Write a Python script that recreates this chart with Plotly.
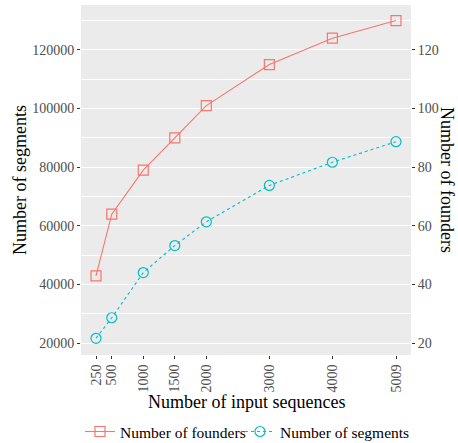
import plotly.graph_objects as go

sequences = [250, 500, 1000, 1500, 2000, 3000, 4000, 5009]
founders = [43, 64, 79, 90, 101, 115, 124, 130]
segments = [21700, 28700, 44100, 53300, 61400, 73800, 81700, 88700]
x_ticks = [250, 500, 1000, 1500, 2000, 3000, 4000, 5009]
y_ticks = [20000, 40000, 60000, 80000, 100000, 120000]
y2_ticks = [20, 40, 60, 80, 100, 120]

FONT = "Liberation Serif"
RED = "#F8766D"
CYAN = "#00BFC4"

fig = go.Figure()
fig.add_trace(go.Scatter(
    x=sequences, y=founders, yaxis="y2", name="Number of founders",
    mode="lines+markers", legend="legend",
    line=dict(color=RED, width=1.1),
    marker=dict(symbol="square-open", size=10, color=RED, line=dict(width=1.2)),
))
fig.add_trace(go.Scatter(
    x=sequences, y=segments, yaxis="y", name="Number of segments",
    mode="lines+markers", legend="legend2",
    line=dict(color=CYAN, width=1.1, dash="dot"),
    marker=dict(symbol="circle-open", size=10, color=CYAN, line=dict(width=1.2)),
))

lo, hi = 16000, 135300
axis_common = dict(
    showline=False, zeroline=False, ticks="outside", ticklen=3, tickwidth=1,
    tickcolor="#333333", tickfont=dict(family=FONT, size=14, color="#4D4D4D"),
    automargin=False,
)
title_font = dict(family=FONT, size=18, color="black")
legend_common = dict(
    orientation="h", xref="container", yref="container",
    xanchor="left", y=0.025, yanchor="middle",
    font=dict(family=FONT, size=15.5, color="black"), bgcolor="rgba(0,0,0,0)",
    itemwidth=30,
)
fig.update_layout(
    width=458, height=443,
    margin=dict(l=81, r=47, t=5, b=88, autoexpand=False),
    paper_bgcolor="white", plot_bgcolor="#EBEBEB",
    font=dict(family=FONT, color="black"),
    xaxis=dict(
        range=[12, 5247], tickvals=x_ticks, ticktext=[str(t) for t in x_ticks],
        tickangle=-90, showgrid=False,
        **axis_common,
    ),
    yaxis=dict(
        range=[lo, hi], tickvals=y_ticks, ticktext=[str(t) for t in y_ticks],
        showgrid=True, gridcolor="white", gridwidth=1.1,
        minor=dict(tickvals=[30000, 50000, 70000, 90000, 110000, 130000],
                   showgrid=True, gridcolor="white", gridwidth=0.5, ticks=""),
        **axis_common,
    ),
    yaxis2=dict(
        range=[lo / 1000, hi / 1000], tickvals=y2_ticks, ticktext=[str(t) for t in y2_ticks],
        overlaying="y", side="right", showgrid=False,
        **axis_common,
    ),
    legend=dict(x=80 / 458, **legend_common),
    legend2=dict(x=240 / 458, **legend_common),
    showlegend=True,
    annotations=[
        dict(text="Number of input sequences", xref="paper", yref="paper", x=0.5, y=-0.135,
             xanchor="center", yanchor="middle", showarrow=False, font=title_font),
        dict(text="Number of segments", xref="paper", yref="paper", x=-0.185, y=0.5,
             xanchor="center", yanchor="middle", textangle=-90, showarrow=False, font=title_font),
        dict(text="Number of founders", xref="paper", yref="paper", x=1.109, y=0.5,
             xanchor="center", yanchor="middle", textangle=90, showarrow=False, font=title_font),
    ],
)
fig.write_html("out.html", config={"displayModeBar": False},
               post_script="document.body.style.margin='0';document.body.style.padding='0';")
